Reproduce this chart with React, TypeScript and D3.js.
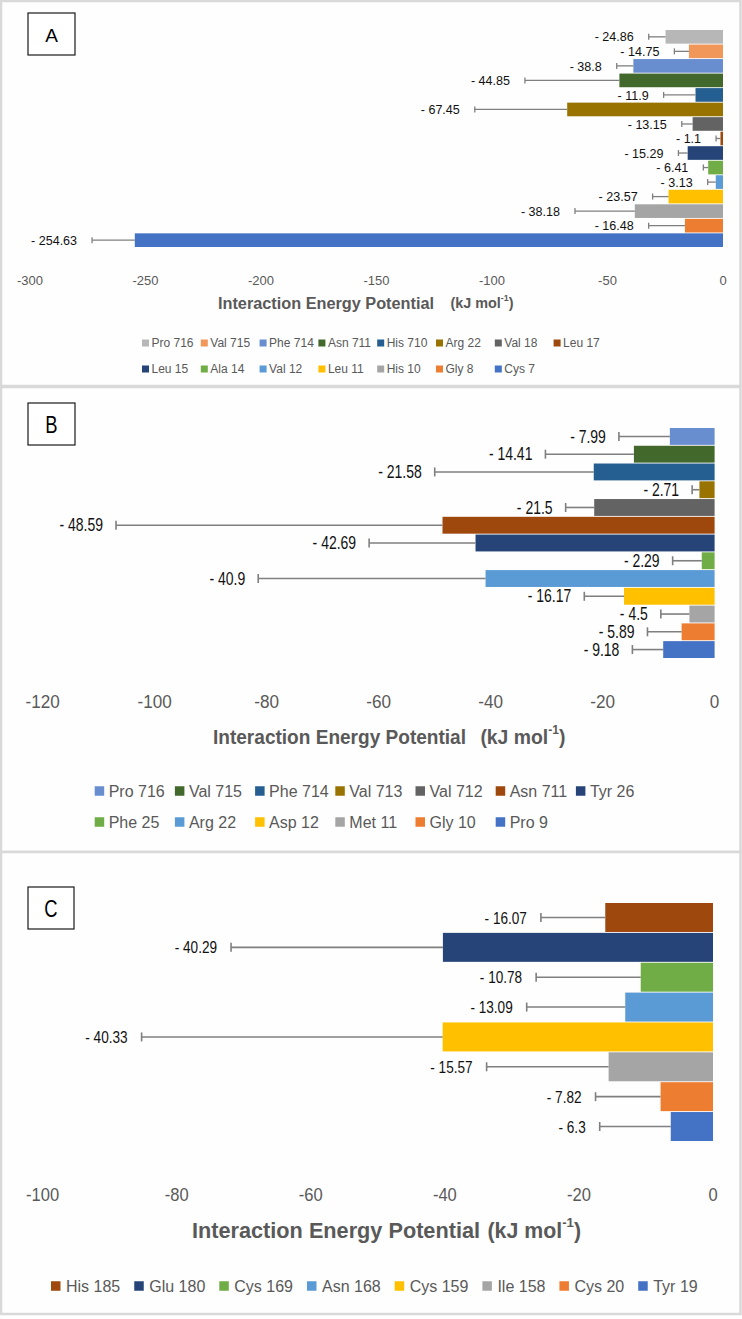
import React, { useMemo } from "react";
import * as d3 from "d3";

const W = 742;
const H = 1319;

// ---------- Panel A data ----------
const residuesA = ["Pro 716", "Val 715", "Phe 714", "Asn 711", "His 710", "Arg 22", "Val 18", "Leu 17", "Leu 15", "Ala 14", "Val 12", "Leu 11", "His 10", "Gly 8", "Cys 7"];
const energyA = [-24.86, -14.75, -38.8, -44.85, -11.9, -67.45, -13.15, -1.1, -15.29, -6.41, -3.13, -23.57, -38.18, -16.48, -254.63];
const errorA = [7.3, 6.3, 7.2, 40.9, 13.8, 40.0, 4.7, 1.9, 4.0, 2.1, 3.5, 6.9, 25.9, 15.7, 18.5];
const colorsA = ["#B7B7B7", "#F1975A", "#698ED0", "#43682B", "#255E91", "#997300", "#636363", "#9E480E", "#264478", "#70AD47", "#5B9BD5", "#FFC000", "#A5A5A5", "#ED7D31", "#4472C4"];
const ticksA = [-300, -250, -200, -150, -100, -50, 0];
const legendRowsA = [8, 7];

// ---------- Panel B data ----------
const residuesB = ["Pro 716", "Val 715", "Phe 714", "Val 713", "Val 712", "Asn 711", "Tyr 26", "Phe 25", "Arg 22", "Asp 12", "Met 11", "Gly 10", "Pro 9"];
const energyB = [-7.99, -14.41, -21.58, -2.71, -21.5, -48.59, -42.69, -2.29, -40.9, -16.17, -4.5, -5.89, -9.18];
const errorB = [9.1, 15.8, 28.4, 1.3, 5.1, 58.3, 19.0, 5.2, 40.6, 7.1, 5.1, 6.1, 5.5];
const colorsB = ["#698ED0", "#43682B", "#255E91", "#997300", "#636363", "#9E480E", "#264478", "#70AD47", "#5B9BD5", "#FFC000", "#A5A5A5", "#ED7D31", "#4472C4"];
const ticksB = [-120, -100, -80, -60, -40, -20, 0];
const legendRowsB = [7, 6];

// ---------- Panel C data ----------
const residuesC = ["His 185", "Glu 180", "Cys 169", "Asn 168", "Cys 159", "Ile 158", "Cys 20", "Tyr 19"];
const energyC = [-16.07, -40.29, -10.78, -13.09, -40.33, -15.57, -7.82, -6.3];
const errorC = [9.6, 31.6, 15.6, 14.7, 44.9, 18.2, 9.7, 10.6];
const colorsC = ["#9E480E", "#264478", "#70AD47", "#5B9BD5", "#FFC000", "#A5A5A5", "#ED7D31", "#4472C4"];
const ticksC = [-100, -80, -60, -40, -20, 0];
const legendRowsC = [8];

const titleText = "Interaction Energy Potential";

const SANS = "'Liberation Sans', Arial, sans-serif";

let ctx: CanvasRenderingContext2D | null = null;
function measure(text: string, font: string): number {
  if (!ctx) ctx = document.createElement("canvas").getContext("2d");
  if (!ctx) return text.length * 7;
  ctx.font = font;
  return ctx.measureText(text).width;
}

type Layout = {
  frame: [number, number, number, number];
  letter: string;
  letterBox: [number, number, number, number];
  letterSize: number;
  letterSx: number;
  domain: [number, number];
  xRange: [number, number];
  barRange: [number, number];
  pad: number;
  tickY: number;
  tickSize: number;
  tickSx: number;
  labelSize: number;
  labelSx: number;
  labelGap: number;
  capH: number;
  errW: number;
  titleY: number;
  title: { x: number; w: number; size: number };
  unit: { x: number; w: number; size: number };
  legendY: number[];
  legendX: number;
  legendColW: number | null;
  legendSq: number;
  legendTextDx: number;
  legendSize: number;
  legendItemGap: number;
};

type Props = {
  names: string[];
  values: number[];
  errors: number[];
  colors: string[];
  ticks: number[];
  legendRows: number[];
  L: Layout;
};

function Panel({ names, values, errors, colors, ticks, legendRows, L }: Props) {
  const x = d3.scaleLinear().domain(L.domain).range(L.xRange);
  const y = d3.scaleBand<string>().domain(names).range(L.barRange).paddingInner(L.pad).paddingOuter(0);
  const bh = y.bandwidth();

  const legendItems = useMemo(() => {
    const items: { name: string; color: string; x: number; y: number }[] = [];
    let idx = 0;
    legendRows.forEach((count, r) => {
      let cx = L.legendX;
      for (let k = 0; k < count; k++) {
        const i = idx + k;
        items.push({ name: names[i], color: colors[i], x: cx, y: L.legendY[r] });
        if (L.legendColW != null) cx += L.legendColW;
        else cx += L.legendTextDx + measure(names[i], `${L.legendSize}px ${SANS}`) + L.legendItemGap;
      }
      idx += count;
    });
    return items;
  }, [names, colors, legendRows, L]);

  const [fx, fy, fw, fh] = L.frame;
  const [bx, by, bw, bhh] = L.letterBox;

  return (
    <g>
      <rect x={fx} y={fy} width={fw} height={fh} fill="#fefefe" stroke="#d9d9d9" strokeWidth={2.5} />
      <rect x={bx} y={by} width={bw} height={bhh} fill="#ffffff" stroke="#1a1a1a" strokeWidth={1.2} />
      <text
        transform={`translate(${bx + bw / 2},${by + bhh / 2 + 1}) scale(${L.letterSx},1)`}
        textAnchor="middle"
        dominantBaseline="central"
        fontFamily={SANS}
        fontSize={L.letterSize}
        fill="#000"
      >
        {L.letter}
      </text>

      {names.map((n, i) => (
        <rect key={"b" + n + i} x={x(values[i])} y={y(n)!} width={x(0) - x(values[i])} height={bh} fill={colors[i]} />
      ))}

      {names.map((n, i) => {
        const cy = y(n)! + bh / 2;
        const x0 = x(values[i]);
        const x1 = x(values[i] - errors[i]);
        return (
          <g key={"e" + n + i} stroke="#7f7f7f" strokeWidth={L.errW}>
            <line x1={x0} x2={x1} y1={cy} y2={cy} />
            <line x1={x1} x2={x1} y1={cy - L.capH / 2} y2={cy + L.capH / 2} />
          </g>
        );
      })}

      {names.map((n, i) => {
        const cy = y(n)! + bh / 2;
        const x1 = x(values[i] - errors[i]);
        return (
          <text
            key={"l" + n + i}
            transform={`translate(${x1 - L.labelGap},${cy}) scale(${L.labelSx},1)`}
            textAnchor="end"
            dominantBaseline="central"
            fontFamily={SANS}
            fontSize={L.labelSize}
            fill="#111"
          >
            {"- " + Math.abs(values[i])}
          </text>
        );
      })}

      {ticks.map((t) => (
        <text
          key={"t" + t}
          transform={`translate(${x(t)},${L.tickY}) scale(${L.tickSx},1)`}
          textAnchor="middle"
          dominantBaseline="central"
          fontFamily={SANS}
          fontSize={L.tickSize}
          fill="#595959"
        >
          {t}
        </text>
      ))}

      <text x={L.title.x} y={L.titleY} dominantBaseline="central" fontFamily={SANS} fontWeight="bold" fontSize={L.title.size} fill="#595959" textLength={L.title.w} lengthAdjust="spacingAndGlyphs">
        {titleText}
      </text>
      <text x={L.unit.x} y={L.titleY} dominantBaseline="central" fontFamily={SANS} fontWeight="bold" fontSize={L.unit.size} fill="#595959" textLength={L.unit.w} lengthAdjust="spacingAndGlyphs">
        <tspan>(kJ mol</tspan>
        <tspan fontSize={L.unit.size * 0.62} dy={-L.unit.size * 0.35}>-1</tspan>
        <tspan dy={L.unit.size * 0.35}>)</tspan>
      </text>

      {legendItems.map((it, i) => (
        <g key={"lg" + i}>
          <rect x={it.x} y={it.y - L.legendSq / 2} width={L.legendSq} height={L.legendSq} fill={it.color} />
          <text x={it.x + L.legendTextDx} y={it.y} dominantBaseline="central" fontFamily={SANS} fontSize={L.legendSize} fill="#595959">
            {it.name}
          </text>
        </g>
      ))}
    </g>
  );
}

const layoutA: Layout = {
  frame: [1, 1, 739.5, 385],
  letter: "A",
  letterBox: [28, 13, 47, 42],
  letterSize: 19,
  letterSx: 1,
  domain: [-300, 0],
  xRange: [30, 723],
  barRange: [30, 247],
  pad: 0.06,
  tickY: 280,
  tickSize: 13,
  tickSx: 1,
  labelSize: 13.5,
  labelSx: 0.93,
  labelGap: 15,
  capH: 6,
  errW: 1.3,
  titleY: 303,
  title: { x: 218, w: 216, size: 16 },
  unit: { x: 450.5, w: 63, size: 14 },
  legendY: [343, 369],
  legendX: 142,
  legendColW: 58.8,
  legendSq: 7,
  legendTextDx: 9.5,
  legendSize: 12,
  legendItemGap: 8,
};

const layoutB: Layout = {
  frame: [1, 387, 739.5, 465],
  letter: "B",
  letterBox: [28, 403, 47, 42],
  letterSize: 23,
  letterSx: 0.8,
  domain: [-120, 0],
  xRange: [42.6, 714.6],
  barRange: [428, 658],
  pad: 0.05,
  tickY: 702,
  tickSize: 19,
  tickSx: 0.9,
  labelSize: 17.5,
  labelSx: 0.8,
  labelGap: 13,
  capH: 9,
  errW: 1.6,
  titleY: 737,
  title: { x: 213, w: 253, size: 20 },
  unit: { x: 480.4, w: 85, size: 20 },
  legendY: [791, 822],
  legendX: 94.7,
  legendColW: 80.2,
  legendSq: 9.5,
  legendTextDx: 14,
  legendSize: 16,
  legendItemGap: 14,
};

const layoutC: Layout = {
  frame: [1, 852, 739.5, 462],
  letter: "C",
  letterBox: [28, 887, 46, 42],
  letterSize: 23,
  letterSx: 0.8,
  domain: [-100, 0],
  xRange: [42.6, 713],
  barRange: [903, 1141],
  pad: 0.03,
  tickY: 1195,
  tickSize: 18,
  tickSx: 0.92,
  labelSize: 17,
  labelSx: 0.8,
  labelGap: 14,
  capH: 9,
  errW: 1.6,
  titleY: 1230,
  title: { x: 192, w: 288, size: 22 },
  unit: { x: 487.5, w: 93.5, size: 22 },
  legendY: [1286],
  legendX: 51,
  legendColW: null,
  legendSq: 9.5,
  legendTextDx: 15,
  legendSize: 16,
  legendItemGap: 14,
};

export default function App() {
  return (
    <div style={{ position: "absolute", left: 0, top: 0, width: W, height: H, background: "#ffffff" }}>
      <svg width={W} height={H} viewBox={`0 0 ${W} ${H}`} style={{ display: "block" }}>
        <rect x={0} y={0} width={W} height={H} fill="#ffffff" />
        <Panel names={residuesA} values={energyA} errors={errorA} colors={colorsA} ticks={ticksA} legendRows={legendRowsA} L={layoutA} />
        <Panel names={residuesB} values={energyB} errors={errorB} colors={colorsB} ticks={ticksB} legendRows={legendRowsB} L={layoutB} />
        <Panel names={residuesC} values={energyC} errors={errorC} colors={colorsC} ticks={ticksC} legendRows={legendRowsC} L={layoutC} />
      </svg>
    </div>
  );
}
